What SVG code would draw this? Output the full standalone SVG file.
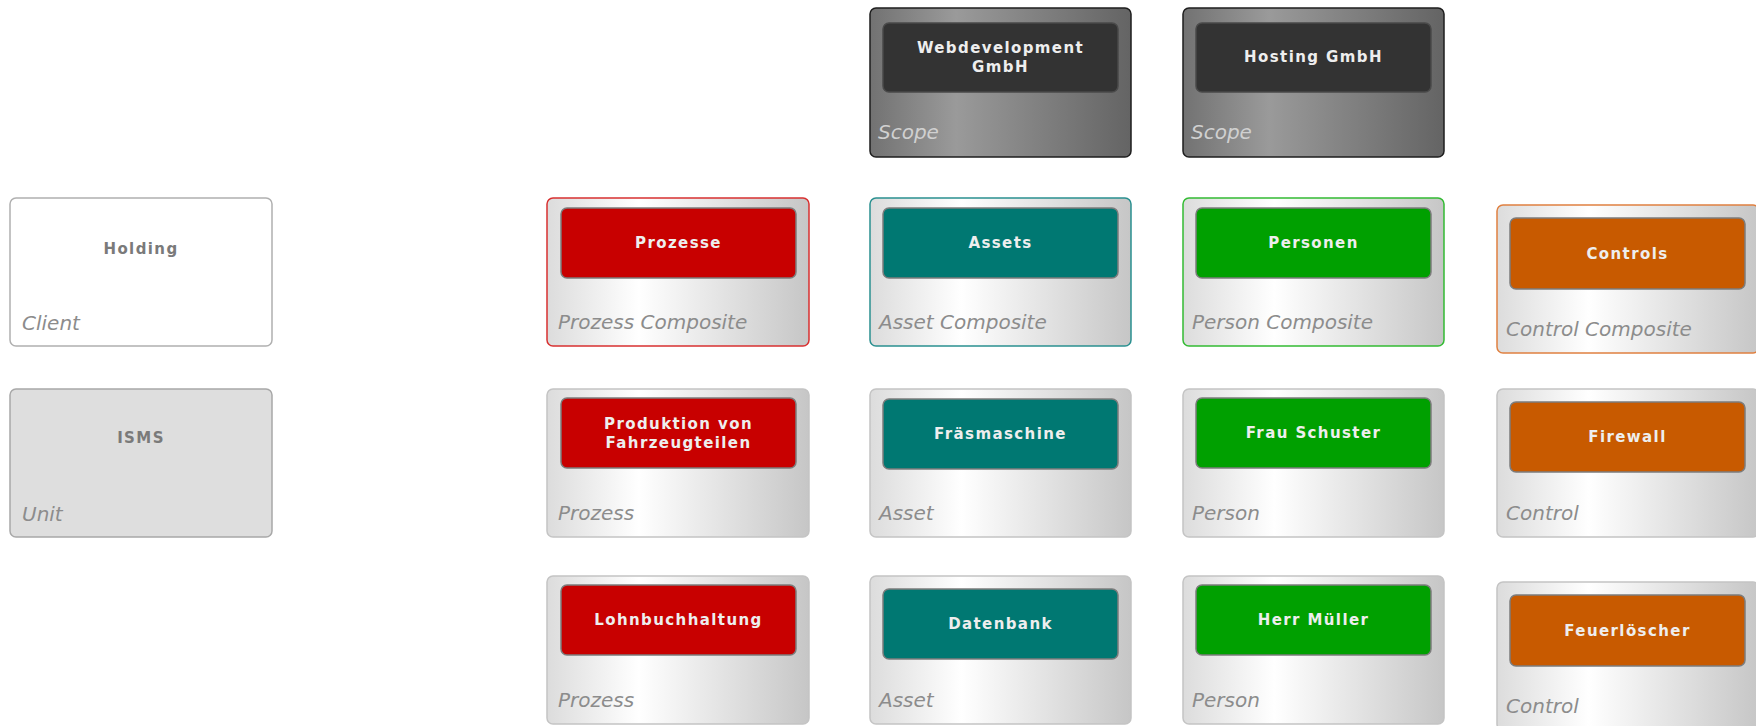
<svg xmlns="http://www.w3.org/2000/svg" width="1756" height="726" viewBox="0 0 1756 726">
<defs>
<linearGradient id="gLight" x1="0" y1="0" x2="1" y2="0">
<stop offset="0" stop-color="#dcdcdc"/>
<stop offset="0.35" stop-color="#ffffff"/>
<stop offset="1" stop-color="#c6c6c6"/>
</linearGradient>
<linearGradient id="gScope" x1="0" y1="0" x2="1" y2="0">
<stop offset="0" stop-color="#727272"/>
<stop offset="0.33" stop-color="#9a9a9a"/>
<stop offset="1" stop-color="#646464"/>
</linearGradient>
<style>
.o{fill:url(#gLight);stroke:#c4c4c4;stroke-width:1.5}
.sc{fill:url(#gScope);stroke:#1e1e1e;stroke-width:1.5}
.cl{fill:#ffffff;stroke:#b0b0b0;stroke-width:1.5}
.un{fill:#dedede;stroke:#a8a8a8;stroke-width:1.5}
.cp-p{stroke:#d83030}
.cp-a{stroke:#2a9090}
.cp-g{stroke:#33bb33}
.cp-c{stroke:#e08040}
.i{stroke:#7c7c7c;stroke-width:1.5}
.ip{fill:#c80000}
.ia{fill:#007872}
.ig{fill:#00a000}
.ic{fill:#c85a00}
.is{fill:#333333;stroke:#4a4a4a}
.t{font-family:"DejaVu Sans",Verdana,sans-serif;font-weight:bold;font-size:15px;letter-spacing:1.4px;fill:#eeeeee;text-anchor:middle}
.tg{fill:#7a7a7a}
.l{font-family:"DejaVu Sans",Verdana,sans-serif;font-style:italic;font-weight:200;font-size:20px;fill:#8c8c8c}
.ls{fill:#d0d0d0}
</style>
</defs>
<g id="connectors"></g>

<g id="webdevelopment">
<rect class="sc" x="870" y="8" width="261" height="149" rx="6"/>
<rect class="i is" x="883" y="23" width="235" height="69" rx="6"/>
<text class="t" x="1000.5" y="53">Webdevelopment</text>
<text class="t" x="1000.5" y="72">GmbH</text>
<text class="l ls" x="878" y="139">Scope</text>
</g>
<g id="hosting">
<rect class="sc" x="1183" y="8" width="261" height="149" rx="6"/>
<rect class="i is" x="1196" y="23" width="235" height="69" rx="6"/>
<text class="t" x="1313.5" y="62">Hosting GmbH</text>
<text class="l ls" x="1191" y="139">Scope</text>
</g>

<g id="holding">
<rect class="cl" x="10" y="198" width="262" height="148" rx="6"/>
<text class="t tg" x="141" y="254">Holding</text>
<text class="l" x="22" y="330">Client</text>
</g>
<g id="isms">
<rect class="un" x="10" y="389" width="262" height="148" rx="6"/>
<text class="t tg" x="141" y="443">ISMS</text>
<text class="l" x="22" y="521">Unit</text>
</g>

<g id="prozesse">
<rect class="o cp-p" x="547" y="198" width="262" height="148" rx="6"/>
<rect class="i ip" x="561" y="208" width="235" height="70" rx="6"/>
<text class="t" x="678.5" y="248">Prozesse</text>
<text class="l" x="558" y="329">Prozess Composite</text>
</g>
<g id="assets">
<rect class="o cp-a" x="870" y="198" width="261" height="148" rx="6"/>
<rect class="i ia" x="883" y="208" width="235" height="70" rx="6"/>
<text class="t" x="1000.5" y="248">Assets</text>
<text class="l" x="879" y="329">Asset Composite</text>
</g>
<g id="personen">
<rect class="o cp-g" x="1183" y="198" width="261" height="148" rx="6"/>
<rect class="i ig" x="1196" y="208" width="235" height="70" rx="6"/>
<text class="t" x="1313.5" y="248">Personen</text>
<text class="l" x="1192" y="329">Person Composite</text>
</g>
<g id="controls">
<rect class="o cp-c" x="1497" y="205" width="262" height="148" rx="6"/>
<rect class="i ic" x="1510" y="218" width="235" height="71" rx="6"/>
<text class="t" x="1627.5" y="259">Controls</text>
<text class="l" x="1506" y="336">Control Composite</text>
</g>

<g id="produktion">
<rect class="o" x="547" y="389" width="262" height="148" rx="6"/>
<rect class="i ip" x="561" y="398" width="235" height="70" rx="6"/>
<text class="t" x="678.5" y="429">Produktion von</text>
<text class="t" x="678.5" y="448">Fahrzeugteilen</text>
<text class="l" x="558" y="520">Prozess</text>
</g>
<g id="fraesmaschine">
<rect class="o" x="870" y="389" width="261" height="148" rx="6"/>
<rect class="i ia" x="883" y="399" width="235" height="70" rx="6"/>
<text class="t" x="1000.5" y="439">Fräsmaschine</text>
<text class="l" x="879" y="520">Asset</text>
</g>
<g id="frau-schuster">
<rect class="o" x="1183" y="389" width="261" height="148" rx="6"/>
<rect class="i ig" x="1196" y="398" width="235" height="70" rx="6"/>
<text class="t" x="1313.5" y="438">Frau Schuster</text>
<text class="l" x="1192" y="520">Person</text>
</g>
<g id="firewall">
<rect class="o" x="1497" y="389" width="262" height="148" rx="6"/>
<rect class="i ic" x="1510" y="402" width="235" height="70" rx="6"/>
<text class="t" x="1627.5" y="442">Firewall</text>
<text class="l" x="1506" y="520">Control</text>
</g>

<g id="lohnbuchhaltung">
<rect class="o" x="547" y="576" width="262" height="148" rx="6"/>
<rect class="i ip" x="561" y="585" width="235" height="70" rx="6"/>
<text class="t" x="678.5" y="625">Lohnbuchhaltung</text>
<text class="l" x="558" y="707">Prozess</text>
</g>
<g id="datenbank">
<rect class="o" x="870" y="576" width="261" height="148" rx="6"/>
<rect class="i ia" x="883" y="589" width="235" height="70" rx="6"/>
<text class="t" x="1000.5" y="629">Datenbank</text>
<text class="l" x="879" y="707">Asset</text>
</g>
<g id="herr-mueller">
<rect class="o" x="1183" y="576" width="261" height="148" rx="6"/>
<rect class="i ig" x="1196" y="585" width="235" height="70" rx="6"/>
<text class="t" x="1313.5" y="625">Herr Müller</text>
<text class="l" x="1192" y="707">Person</text>
</g>
<g id="feuerloescher">
<rect class="o" x="1497" y="582" width="262" height="148" rx="6"/>
<rect class="i ic" x="1510" y="595" width="235" height="71" rx="6"/>
<text class="t" x="1627.5" y="636">Feuerlöscher</text>
<text class="l" x="1506" y="713">Control</text>
</g>
</svg>
